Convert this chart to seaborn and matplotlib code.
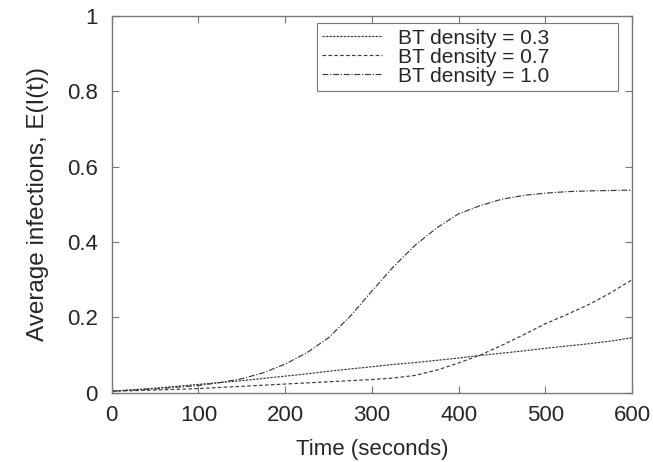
import matplotlib
matplotlib.use('Agg')
import matplotlib.pyplot as plt
import seaborn as sns
import pandas as pd

# values
time_s = [0, 50, 100, 125, 150, 175, 200, 225, 250, 275, 300, 325, 350, 375,
          400, 425, 450, 475, 500, 525, 550, 575, 600]
bt_03 = [0.004, 0.012, 0.022, 0.027, 0.032, 0.038, 0.044, 0.050, 0.057, 0.063, 0.069,
         0.075, 0.080, 0.086, 0.092, 0.099, 0.105, 0.111, 0.118, 0.124, 0.130, 0.137, 0.146]
bt_07 = [0.004, 0.007, 0.011, 0.014, 0.017, 0.020, 0.023, 0.026, 0.029, 0.032, 0.035,
         0.039, 0.046, 0.060, 0.079, 0.100, 0.126, 0.154, 0.183, 0.208, 0.234, 0.265, 0.300]
bt_10 = [0.004, 0.010, 0.019, 0.027, 0.037, 0.053, 0.076, 0.106, 0.146, 0.203, 0.270,
         0.335, 0.392, 0.438, 0.475, 0.497, 0.514, 0.524, 0.530, 0.534, 0.536, 0.537, 0.538]
labels = ['BT density = 0.3', 'BT density = 0.7', 'BT density = 1.0']

df = pd.DataFrame({
    'time': time_s * 3,
    'value': bt_03 + bt_07 + bt_10,
    'series': [labels[0]] * len(time_s) + [labels[1]] * len(time_s) + [labels[2]] * len(time_s),
})

sns.set_style('ticks')
plt.rcParams['font.family'] = ['Liberation Sans', 'DejaVu Sans']

fig = plt.figure(figsize=(6.53, 4.62), dpi=100)
ax = fig.add_axes([0.171, 0.150, 0.797, 0.815])

dashes = {labels[0]: (2, 1), labels[1]: (3, 2), labels[2]: (5, 1.5, 1, 1.5)}
sns.lineplot(data=df, x='time', y='value', hue='series', style='series',
             palette=['#3a3a3a'] * 3, dashes=dashes, linewidth=0.85, ax=ax)

ax.set_xlim(0, 600)
ax.set_ylim(0, 1)
ax.set_xticks(range(0, 601, 100))
ax.set_yticks([0, 0.2, 0.4, 0.6, 0.8, 1])
ax.set_yticklabels(['0', '0.2', '0.4', '0.6', '0.8', '1'])
ax.set_xlabel('Time (seconds)', fontsize=16, labelpad=9)
ax.set_ylabel('Average infections, E(I(t))', fontsize=17.5, labelpad=13)
ax.tick_params(direction='in', top=True, right=True, labelsize=16, length=5, color='#777777')
ax.tick_params(axis='y', pad=10)
ax.tick_params(axis='x', pad=9)
for s in ax.spines.values():
    s.set_color('#777777')
    s.set_linewidth(1)

leg = ax.legend(loc='upper left', bbox_to_anchor=(0.394, 0.805, 0.579, 0.176), mode='expand',
                fontsize=15, frameon=True, fancybox=False, borderaxespad=0,
                handlelength=2.9, handletextpad=0.75, labelspacing=0.0, borderpad=0.25)
leg.get_frame().set_edgecolor('#555555')
leg.get_frame().set_linewidth(0.8)

fig.savefig('out.png', dpi=100)
